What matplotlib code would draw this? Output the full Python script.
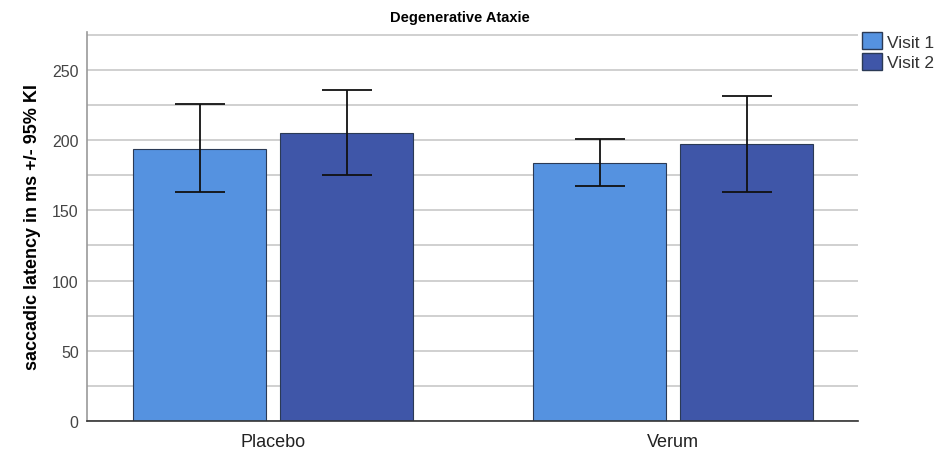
import numpy as np
import matplotlib
matplotlib.use("Agg")
import matplotlib.pyplot as plt
from matplotlib.patches import Patch

groups = ["Placebo", "Verum"]
visits = ["Visit 1", "Visit 2"]
means = {"Visit 1": [194, 183.5], "Visit 2": [205, 197]}
ci_low = {"Visit 1": [163, 167], "Visit 2": [175, 163]}
ci_high = {"Visit 1": [225.5, 200.5], "Visit 2": [236, 231.5]}
colors = {"Visit 1": "#5592e0", "Visit 2": "#3f56a8"}

matplotlib.rcParams['font.family'] = 'Liberation Sans'

fig = plt.figure(figsize=(9.37, 4.52), dpi=100)
ax = fig.add_axes([87/937, 30/452, (858-87)/937, (422-33)/452])

x = np.arange(len(groups))
w = 0.3325
offs = {"Visit 1": -(w/2 + 0.0175), "Visit 2": (w/2 + 0.0175)}

for v in visits:
    m = np.array(means[v])
    lo = m - np.array(ci_low[v])
    hi = np.array(ci_high[v]) - m
    ax.bar(x + offs[v], m, width=w, color=colors[v], edgecolor="#2b3a55",
           linewidth=0.8, zorder=2)
    ax.errorbar(x + offs[v], m, yerr=[lo, hi], fmt="none", ecolor="#111111",
                elinewidth=1.3, capsize=18, capthick=1.3, zorder=3)

ax.set_xlim(-0.465, 1.4625)
ax.set_ylim(0, 277)
ax.set_yticks([0, 50, 100, 150, 200, 250])
ax.set_yticks(np.arange(0, 276, 25), minor=True)
ax.yaxis.grid(True, which="both", color="#c8c8c8", linewidth=1.2, zorder=0)
ax.set_axisbelow(True)
ax.tick_params(axis="y", which="both", length=0, labelsize=11.5,
               labelcolor="#444444", pad=6)
ax.set_xticks(x)
ax.set_xticklabels(groups, fontsize=13, color="#222222")
ax.tick_params(axis="x", length=0, pad=9)

for s in ["top", "right"]:
    ax.spines[s].set_visible(False)
ax.spines["left"].set_color("#999999")
ax.spines["left"].set_linewidth(1.2)
ax.spines["bottom"].set_color("#333333")
ax.spines["bottom"].set_linewidth(1.2)

ax.set_ylabel("saccadic latency in ms +/- 95% KI", fontsize=13,
              fontweight="bold", labelpad=8)
fig.text(460/937, 1 - 18/452, "Degenerative Ataxie", ha="center",
         va="center", fontsize=10.5, fontweight="bold")

handles = [Patch(facecolor=colors[v], edgecolor="#2b3a55", label=v)
           for v in visits]
leg = fig.legend(handles=handles, loc="upper left",
                 bbox_to_anchor=(859/937, 1 - 30/452), frameon=False,
                 fontsize=12.5, handlelength=1.1, handleheight=1.1,
                 handletextpad=0.3, borderpad=0.2, labelspacing=0.2,
                 borderaxespad=0)
for t in leg.get_texts():
    t.set_color("#333333")

fig.savefig("out.png", dpi=100)
